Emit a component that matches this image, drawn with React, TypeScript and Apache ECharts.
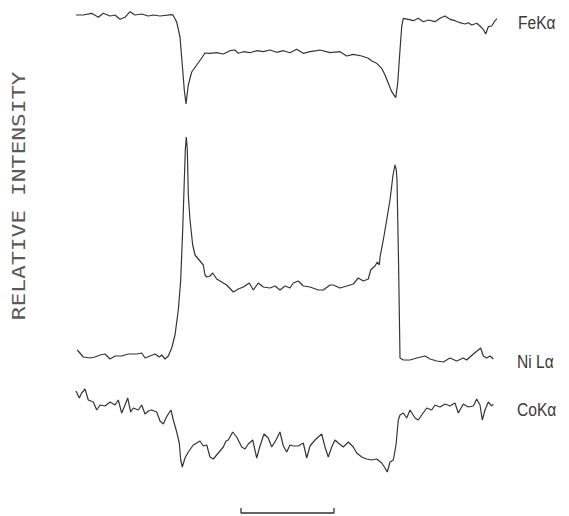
import React, { useEffect, useRef } from "react";
import * as echarts from "echarts";

// Position along the scan (scan steps, 0..419), intensity in arbitrary units per trace
const feKa: number[][] = [
  [0, 105], [7, 105], [15.7, 106.7], [22.3, 102.7], [27.3, 106.7], [34, 104], [39, 105], [44, 100.7],
  [49, 102.7], [54, 108.3], [59, 105], [65.7, 106], [72.3, 104], [77.3, 105], [84, 104], [95.7, 105.3],
  [97, 105], [100.7, 98], [104, 83], [106.7, 50], [108.3, 30], [110, 16], [112.3, 35], [115.7, 48],
  [120.7, 55], [125.7, 62], [129, 67], [134, 66.7], [140.7, 67.3], [147.3, 66], [154, 69.3], [159, 70],
  [162.3, 66.7], [167.3, 68.3], [174, 67.3], [180.7, 69.3], [187.3, 68.3], [194, 70], [200.7, 67.7],
  [207.3, 69.3], [214, 67.3], [220.7, 70.7], [227.3, 66.7], [234, 68.3], [240.7, 69.3], [244, 70],
  [254, 67.3], [264, 68.3], [270.7, 64], [277.3, 65.7], [285.7, 64], [292.3, 61.7], [295.7, 59],
  [300.7, 56.7], [305.7, 51.7], [309, 45], [312.3, 36.7], [315.7, 28.3], [319.7, 22.3], [321.7, 36.7],
  [324, 70], [325.7, 93.3], [327.3, 101.7], [332.3, 100.7], [337.3, 99.3], [342.3, 101.7], [347.3, 98.3],
  [352.3, 100], [359, 98.3], [364, 101.7], [369, 104], [374, 100.7], [379, 99.3], [384, 97.3], [389, 96],
  [392.3, 97.3], [395.7, 95], [400.7, 96.7], [404, 94], [407.3, 90.7], [409.7, 86], [412.3, 93.3],
  [415.7, 94], [418.3, 98.3], [421.3, 101.7],
];

const niLa: number[][] = [
  [1.3, 30], [7.3, 23], [14, 22], [19, 23], [24, 25], [29, 26], [34, 21], [39, 24], [45.7, 24], [52.3, 26],
  [60.7, 26], [65.7, 27], [69, 22], [74, 24], [79, 26], [83.3, 23], [85.7, 25], [89, 21], [92.3, 24],
  [95.7, 32], [99, 45], [102.3, 70], [104.7, 100], [106.7, 150], [108, 190], [109.3, 230], [110.3, 243],
  [111.3, 230], [112.3, 185], [114, 160], [116.7, 135], [119, 125], [124, 119], [127.3, 115], [129, 105],
  [130.7, 103], [134, 104], [136.7, 107], [140.7, 101], [145.7, 98], [150.7, 95], [157.3, 88], [162.3, 91],
  [167.3, 93], [173.3, 97], [177.3, 90], [182.3, 97], [187.3, 93], [194, 92], [199, 94], [204, 90],
  [209, 94], [214, 92], [217.3, 97], [222.3, 99], [227.3, 94], [234, 93], [242.3, 90], [247.3, 90],
  [254, 95], [257.3, 95], [264, 92], [270.7, 94], [277.3, 96], [282.3, 102], [287.3, 99], [292.3, 101],
  [294.7, 110], [299, 114], [301.3, 118], [303.3, 115], [304, 123], [307.3, 140], [310.7, 160], [314, 180],
  [317, 205], [319, 215], [320.3, 210], [321, 200], [322.5, 120], [324, 22], [327.3, 20], [334, 20],
  [340.7, 22], [349, 24], [354, 21], [360.7, 19], [367.3, 18], [374, 22], [380.7, 19], [387.3, 22],
  [390.7, 20], [397.3, 26], [402.3, 30], [404.7, 32], [407.3, 24], [410.7, 22], [414, 24], [417.3, 21],
];

const coKa: number[][] = [
  [0, 89], [3.3, 82], [5.7, 87], [9, 91], [12.3, 80], [17.3, 78], [20.7, 70], [24, 75], [29, 74], [34, 78],
  [39, 75], [42.3, 80], [45.7, 67], [49, 75], [51.7, 82], [54.7, 68], [57.3, 72], [62.3, 70], [65.7, 75],
  [69, 66], [72.3, 69], [75.7, 70], [80.7, 68], [84, 59], [87.3, 56], [90, 62], [92.3, 66], [95, 70],
  [97.3, 60], [100.7, 48], [103.3, 37], [104.7, 20], [106.3, 13], [109, 22], [112.3, 28], [117.3, 35],
  [120.7, 37], [124, 39], [127.3, 34], [130.7, 35], [134, 23], [137.3, 21], [142.3, 27], [147.3, 33],
  [150, 39], [152.3, 40], [156.7, 48], [160.7, 43], [165.7, 33], [169, 31], [172.3, 36], [176.7, 40],
  [180.7, 22], [184, 34], [188, 46], [192.3, 42], [195.7, 33], [200, 40], [204, 48], [207.3, 34],
  [210.7, 28], [214, 35], [217.3, 34], [222.3, 34], [227.3, 37], [230.7, 22], [234, 34], [239, 40],
  [242.3, 43], [245.7, 46], [249, 33], [252.3, 23], [255.7, 33], [259, 40], [262.3, 37], [267.3, 33],
  [272.3, 38], [277.3, 33], [280.7, 27], [285.7, 23], [290.7, 21], [295.7, 20], [300.7, 21], [305.7, 17],
  [309, 12], [311.3, 8], [314, 18], [317.3, 20], [320, 35], [322.3, 60], [324, 65], [327.3, 67], [330.7, 62],
  [334, 70], [339, 62], [342.3, 60], [345.7, 65], [350.7, 72], [355.7, 70], [359, 75], [364, 73], [369, 76],
  [374, 74], [379, 77], [382.3, 67], [387.3, 76], [392.3, 73], [397.3, 74], [400.7, 81], [404, 75],
  [406.3, 60], [409, 70], [412.3, 78], [415.7, 74], [417.3, 76],
];

// Scale bar: start and length in scan steps (≈10 µm)
const scaleBarStart = 165;
const scaleBarLength = 93;

const traceNames = ["FeKα", "Ni Lα", "CoKα"];
const yAxisLabel = "RELATIVE INTENSITY";

export default function App() {
  const ref = useRef<HTMLDivElement>(null);
  useEffect(() => {
    if (!ref.current) return;
    const chart = echarts.init(ref.current, undefined, { renderer: "svg" });
    const gridLeft = 76;
    const gridRight = 74;
    const grids = [
      { left: gridLeft, right: gridRight, top: 0, height: 120 },
      { left: gridLeft, right: gridRight, top: 120, height: 260 },
      { left: gridLeft, right: gridRight, top: 380, height: 100 },
      { left: gridLeft, right: gridRight, top: 496, height: 20 },
    ];
    const yMax = [120, 260, 100, 20];
    const lineColor = "#353535";
    const traces = [feKa, niLa, coKa];
    const series: any[] = traces.map((d, i) => ({
      type: "line",
      name: traceNames[i],
      data: d,
      xAxisIndex: i,
      yAxisIndex: i,
      showSymbol: false,
      symbol: "none",
      lineStyle: { color: lineColor, width: 1.2 },
    }));
    const barEnd = scaleBarStart + scaleBarLength;
    series.push({
      type: "line",
      name: "scale",
      data: [
        [scaleBarStart, 8],
        [scaleBarStart, 3],
        [barEnd, 3],
        [barEnd, 8],
      ],
      xAxisIndex: 3,
      yAxisIndex: 3,
      showSymbol: false,
      symbol: "none",
      lineStyle: { color: "#333", width: 1.3 },
    });
    const labelFont = "Liberation Sans, Arial, sans-serif";
    const labelStyle = (text: string) => ({
      text,
      font: `19px ${labelFont}`,
      fill: "#3a3a3a",
      verticalAlign: "middle",
    });
    chart.setOption({
      animation: false,
      backgroundColor: "#ffffff",
      grid: grids,
      xAxis: grids.map((_, i) => ({
        type: "value",
        gridIndex: i,
        min: 0,
        max: 419,
        show: false,
      })),
      yAxis: grids.map((_, i) => ({
        type: "value",
        gridIndex: i,
        min: 0,
        max: yMax[i],
        show: false,
      })),
      series,
      graphic: [
        {
          type: "text",
          x: 19,
          y: 196,
          rotation: Math.PI / 2,
          scaleX: 1.35,
          style: {
            text: yAxisLabel,
            font: "17px 'DejaVu Sans Mono', monospace",
            fill: "#5a5a5a",
            align: "center",
            verticalAlign: "middle",
          },
        },
        { type: "text", x: 518, y: 22, scaleX: 0.82, style: labelStyle(traceNames[0]) },
        { type: "text", x: 517, y: 361, scaleX: 0.82, style: labelStyle(traceNames[1]) },
        { type: "text", x: 517, y: 409, scaleX: 0.82, style: labelStyle(traceNames[2]) },
      ],
    });
    return () => chart.dispose();
  }, []);
  return (
    <div
      ref={ref}
      style={{ position: "fixed", left: 0, top: 0, width: 569, height: 516, background: "#fff" }}
    />
  );
}
